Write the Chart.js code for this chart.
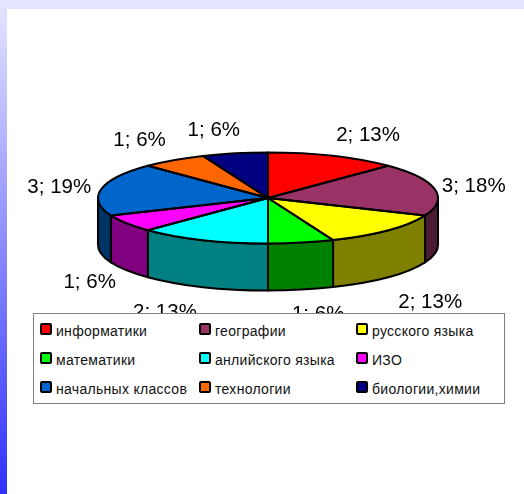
<!DOCTYPE html>
<html lang="ru">
<head>
<meta charset="utf-8">
<title>Диаграмма</title>
<script src="https://cdn.jsdelivr.net/npm/chart.js@4/dist/chart.umd.min.js"></script>
<style>
html,body{margin:0;padding:0;width:524px;height:494px;overflow:hidden}
body{background:linear-gradient(to bottom,#e6e6ff 0%,#3030ff 100%);position:relative}
#panel{position:absolute;left:7px;top:9px;right:0;bottom:0;background:#fff}
#wrap{position:absolute;left:0;top:0;width:524px;height:494px}
#legend{position:absolute;left:33px;top:313px;width:470px;height:89px;background:#fff;border:1px solid #808080;
  font:14px "Liberation Sans",Arial,sans-serif;letter-spacing:.3px;color:#111}
.item{position:absolute;white-space:nowrap;line-height:15px}
.sw{position:absolute;width:8px;height:8px;border:2px solid #000;border-radius:2px}
</style>
</head>
<body>
<div id="panel"></div>
<div id="wrap"><canvas id="c" width="524" height="494"></canvas></div>
<div id="legend"></div>
<script>
const categories = ["информатики","географии","русского языка","математики","анлийского языка","ИЗО","начальных классов","технологии","биологии,химии"];
const values = [2,3,2,1,2,1,3,1,1];
const valueLabels = ["2; 13%","3; 18%","2; 13%","1; 6%","2; 13%","1; 6%","3; 19%","1; 6%","1; 6%"];
const topColors = ["#ff0000","#993366","#ffff00","#00ff00","#00ffff","#ff00ff","#0066cc","#ff6600","#000080"];
const sideColors = ["#800000","#4d1a33","#808000","#008000","#008080","#800080","#003366","#803300","#000040"];
const labelOffsets = [[35,-21],[39,-3],[42,72],[17,72],[-38,72],[-37,59],[-42,-2],[-34,-20],[-21,-23]];

const squash = 0.268, depth = 47;

function sliceProps(el){ return el.getProps(['x','y','startAngle','endAngle','outerRadius']); }

const tilt = {
  id:'tilt',
  beforeDatasetsDraw(chart){
    const ctx = chart.ctx, arcs = chart.getDatasetMeta(0).data;
    ctx.save();
    ctx.lineWidth = 2; ctx.strokeStyle = '#000'; ctx.lineJoin = 'round';
    arcs.forEach((el,i)=>{
      const p = sliceProps(el);
      const s = Math.max(p.startAngle,0), e = Math.min(p.endAngle,Math.PI);
      if(e <= s) return;
      const ry = p.outerRadius*squash;
      ctx.beginPath();
      ctx.ellipse(p.x,p.y,p.outerRadius,ry,0,s,e);
      ctx.ellipse(p.x,p.y+depth,p.outerRadius,ry,0,e,s,true);
      ctx.closePath();
      ctx.fillStyle = sideColors[i];
      ctx.fill(); ctx.stroke();
    });
    ctx.restore();
    const p0 = sliceProps(arcs[0]);
    ctx.save();
    ctx.translate(p0.x,p0.y); ctx.scale(1,squash); ctx.translate(-p0.x,-p0.y);
  },
  afterDatasetsDraw(chart){
    const ctx = chart.ctx, arcs = chart.getDatasetMeta(0).data;
    ctx.restore();
    ctx.save();
    ctx.lineWidth = 2; ctx.strokeStyle = '#000'; ctx.lineJoin = 'round';
    arcs.forEach(el=>{
      const p = sliceProps(el), ry = p.outerRadius*squash;
      ctx.beginPath();
      ctx.moveTo(p.x,p.y);
      ctx.ellipse(p.x,p.y,p.outerRadius,ry,0,p.startAngle,p.endAngle);
      ctx.closePath();
      ctx.stroke();
    });
    ctx.fillStyle = '#000';
    ctx.font = '20.5px "Liberation Sans",Arial,sans-serif';
    ctx.textAlign = 'center'; ctx.textBaseline = 'middle';
    arcs.forEach((el,i)=>{
      const p = sliceProps(el), a = (p.startAngle+p.endAngle)/2;
      const x = p.x + p.outerRadius*Math.cos(a) + labelOffsets[i][0];
      const y = p.y + p.outerRadius*squash*Math.sin(a) + labelOffsets[i][1];
      ctx.fillText(valueLabels[i],x,y);
    });
    ctx.restore();
  }
};

new Chart(document.getElementById('c'),{
  type:'pie',
  data:{labels:categories,datasets:[{data:values,backgroundColor:topColors,borderWidth:0}]},
  options:{
    responsive:false,animation:false,
    layout:{padding:{left:98,right:86,top:28,bottom:126}},
    plugins:{legend:{display:false},tooltip:{enabled:false},title:{display:false}}
  },
  plugins:[tilt]
});

const legend = document.getElementById('legend');
const colX = [6,165,322], rowY = [9,38,67];
categories.forEach((name,i)=>{
  const col = i%3, row = Math.floor(i/3);
  const sw = document.createElement('div');
  sw.className='sw'; sw.style.left=colX[col]+'px'; sw.style.top=rowY[row]+'px'; sw.style.background=topColors[i];
  const t = document.createElement('div');
  t.className='item'; t.textContent=name; t.style.left=(colX[col]+16)+'px'; t.style.top=(rowY[row]+1)+'px';
  legend.append(sw,t);
});
</script>
</body>
</html>
